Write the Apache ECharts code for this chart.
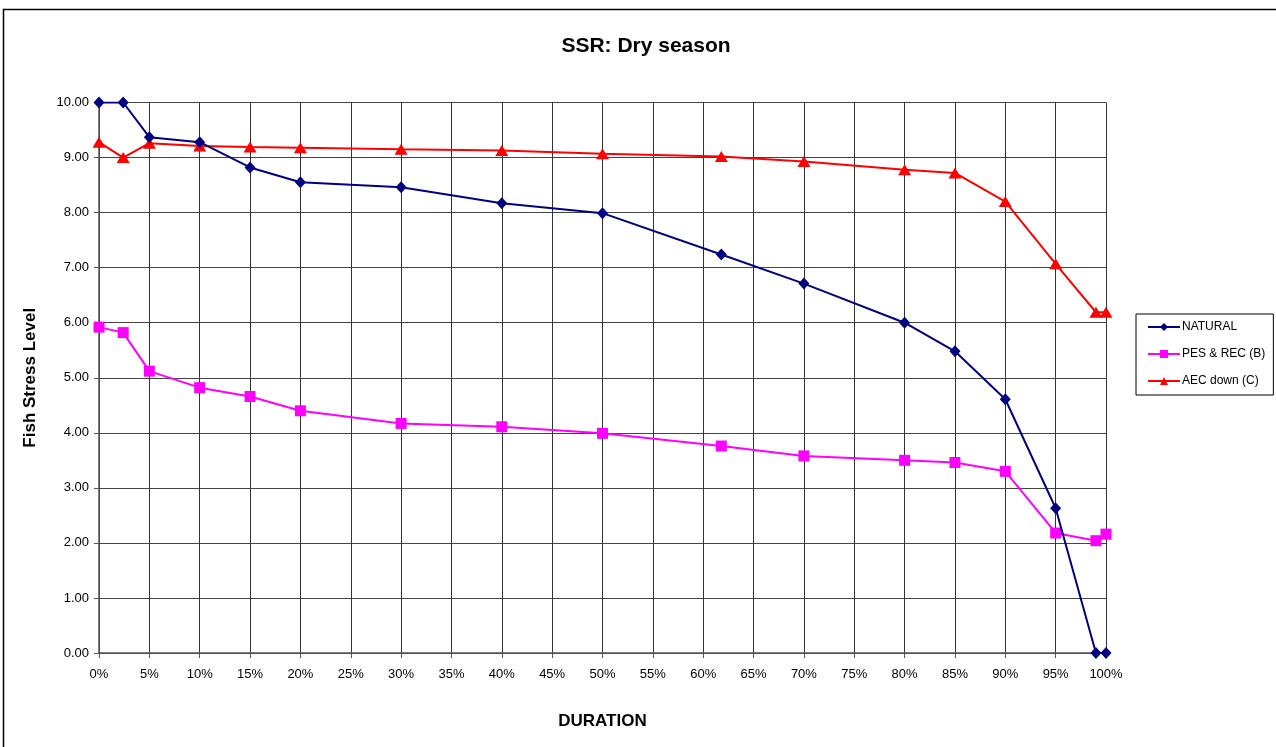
<!DOCTYPE html>
<html>
<head>
<meta charset="utf-8">
<script src="https://cdn.jsdelivr.net/npm/echarts@6/dist/echarts.min.js"></script>
<style>
html,body{margin:0;padding:0;background:#fff;}
#main{width:1276px;height:747px;}
</style>
</head>
<body>
<div id="main"></div>
<script>
const durations = [0, 2.4, 5, 10, 15, 20, 30, 40, 50, 61.8, 70, 80, 85, 90, 95, 99, 100];
const natural   = [10.00, 10.00, 9.37, 9.28, 8.82, 8.55, 8.46, 8.17, 7.99, 7.24, 6.71, 6.00, 5.48, 4.61, 2.63, 0.00, 0.00];
const pesRec    = [5.92, 5.82, 5.12, 4.82, 4.66, 4.40, 4.17, 4.11, 3.99, 3.76, 3.58, 3.50, 3.46, 3.30, 2.18, 2.04, 2.16];
const aecDown   = [9.28, 9.00, 9.26, 9.21, 9.19, 9.18, 9.15, 9.13, 9.07, 9.02, 8.93, 8.78, 8.72, 8.20, 7.07, 6.19, 6.19];
const seriesNames = ['NATURAL', 'PES & REC (B)', 'AEC down (C)'];

const pair = arr => durations.map((d, i) => [d, arr[i]]);
const font = 'Arial, "Liberation Sans", sans-serif';

const chart = echarts.init(document.getElementById('main'), null, {renderer: 'canvas'});
chart.setOption({
  animation: false,
  backgroundColor: '#ffffff',
  textStyle: {fontFamily: font},
  graphic: [{
    type: 'rect',
    shape: {x: 3.5, y: 9.5, width: 1400, height: 900},
    style: {fill: 'none', stroke: '#000', lineWidth: 1.5},
    silent: true
  }],
  title: {
    text: 'SSR: Dry season',
    left: 641, top: 31, textAlign: 'center',
    textStyle: {fontFamily: font, fontSize: 21, fontWeight: 'bold', color: '#000'}
  },
  legend: {
    orient: 'vertical',
    left: 1136, top: 314,
    width: 136,
    padding: [7, 8, 8, 11],
    itemWidth: 32, itemHeight: 10, itemGap: 15,
    borderColor: '#000', borderWidth: 1,
    textStyle: {fontFamily: font, fontSize: 12, color: '#000', padding: [0, 0, 0, -3]},
    data: seriesNames
  },
  grid: {left: 99, right: 170, top: 102.5, bottom: 94, containLabel: false},
  xAxis: {
    type: 'value', min: 0, max: 100, interval: 5,
    name: 'DURATION', nameLocation: 'middle', nameGap: 60,
    nameTextStyle: {fontFamily: font, fontSize: 17, fontWeight: 'bold', color: '#000'},
    axisLine: {show: true, lineStyle: {color: '#555', width: 1.5}},
    axisTick: {show: true, length: 5, inside: false, lineStyle: {color: '#555'}},
    axisLabel: {formatter: v => v + '%', fontFamily: font, fontSize: 13, color: '#000', margin: 15},
    splitLine: {show: true, lineStyle: {color: '#333', width: 1}}
  },
  yAxis: {
    type: 'value', min: 0, max: 10, interval: 1,
    name: 'Fish Stress Level', nameLocation: 'middle', nameGap: 60, nameRotate: 90,
    nameTextStyle: {fontFamily: font, fontSize: 17, fontWeight: 'bold', color: '#000'},
    axisLine: {show: true, lineStyle: {color: '#555', width: 1.5}},
    axisTick: {show: true, length: 5, lineStyle: {color: '#555'}},
    axisLabel: {formatter: v => v.toFixed(2), fontFamily: font, fontSize: 13, color: '#000', margin: 10},
    splitLine: {show: true, lineStyle: {color: '#444', width: 1.2}}
  },
  series: [
    {
      name: seriesNames[0], type: 'line', data: pair(natural),
      symbol: 'diamond', symbolSize: [11, 12],
      itemStyle: {color: '#000080'}, lineStyle: {color: '#000080', width: 2},
      z: 4
    },
    {
      name: seriesNames[1], type: 'line', data: pair(pesRec),
      symbol: 'rect', symbolSize: 11,
      itemStyle: {color: '#FF00FF'}, lineStyle: {color: '#FF00FF', width: 2},
      z: 3
    },
    {
      name: seriesNames[2], type: 'line', data: pair(aecDown),
      symbol: 'triangle', symbolSize: [13, 11],
      itemStyle: {color: '#FF0000'}, lineStyle: {color: '#FF0000', width: 2},
      z: 2
    }
  ]
});
</script>
</body>
</html>
